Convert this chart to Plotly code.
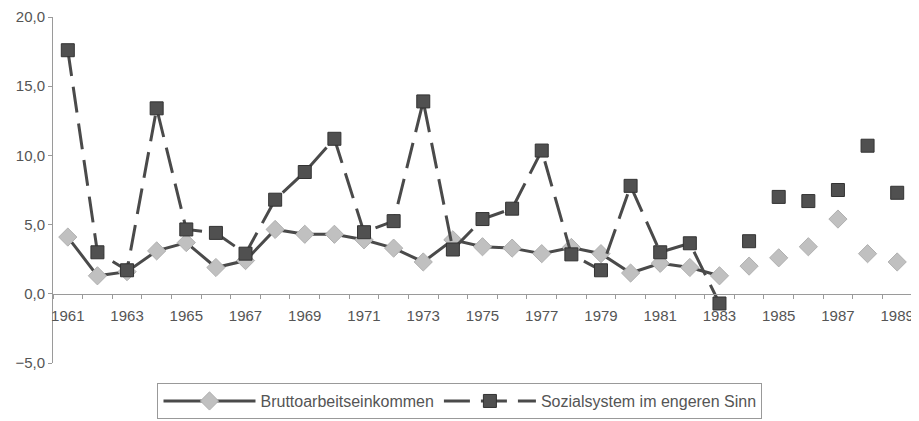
import plotly.graph_objects as go

years = list(range(1961, 1990))
brutto = [4.1, 1.3, 1.6, 3.1, 3.7, 1.9, 2.4, 4.65, 4.3, 4.3, 3.9, 3.3, 2.3,
          3.9, 3.4, 3.3, 2.9, 3.35, 2.9, 1.5, 2.2, 1.9, 1.3,
          2.0, 2.6, 3.4, 5.4, 2.9, 2.3]
sozial = [17.6, 3.0, 1.7, 13.4, 4.65, 4.4, 2.9, 6.8, 8.8, 11.2, 4.45, 5.25, 13.9,
          3.2, 5.4, 6.15, 10.35, 2.85, 1.7, 7.8, 3.0, 3.65, -0.7,
          3.8, 7.0, 6.7, 7.5, 10.7, 7.3]
names = ["Bruttoarbeitseinkommen", "Sozialsystem im engeren Sinn"]
line_end_year = 1983
label_years = list(range(1961, 1990, 2))

n_line = years.index(line_end_year) + 1

LINE = "#4a4a4a"
fig = go.Figure()
# Series 1
fig.add_trace(go.Scatter(
    x=years[:n_line], y=brutto[:n_line], mode="lines+markers", name=names[0],
    line=dict(color=LINE, width=3),
    marker=dict(symbol="diamond", size=14, color="#c0c0c0",
                line=dict(color="#b0b0b0", width=1)),
    legendrank=1))
fig.add_trace(go.Scatter(
    x=years[n_line:], y=brutto[n_line:], mode="markers", showlegend=False,
    marker=dict(symbol="diamond", size=14, color="#c0c0c0",
                line=dict(color="#b0b0b0", width=1))))
# Series 2
fig.add_trace(go.Scatter(
    x=years[:n_line], y=sozial[:n_line], mode="lines+markers", name=names[1],
    line=dict(color=LINE, width=3, dash="26px,11px"),
    marker=dict(symbol="square", size=13, color="#505050",
                line=dict(color="#333333", width=1)),
    legendrank=2))
fig.add_trace(go.Scatter(
    x=years[n_line:], y=sozial[n_line:], mode="markers", showlegend=False,
    marker=dict(symbol="square", size=13, color="#505050",
                line=dict(color="#333333", width=1))))

fig.update_layout(
    width=911, height=413,
    margin=dict(l=45, r=7, t=9, b=58, autoexpand=False),
    paper_bgcolor="white", plot_bgcolor="white",
    separators=",.",
    font=dict(family="Liberation Sans, Arial, sans-serif", color="#555555"),
    showlegend=True,
    legend=dict(orientation="h", x=0.4738, xanchor="center", y=-0.058, yanchor="top",
                bordercolor="#999999", borderwidth=1, font=dict(size=16, color="#555555"),
                itemwidth=92, traceorder="normal"),
)
fig.update_xaxes(
    range=[1960.5, 1989.5], anchor="free", position=0.2, automargin=False,
    showgrid=False, zeroline=False, showline=True, linecolor="#9a9a9a", linewidth=1,
    tickmode="array", tickvals=label_years, ticktext=[str(y) for y in label_years],
    ticks="", ticklabelstandoff=8, tickfont=dict(size=15, color="#555555"),
    minor=dict(tickmode="linear", tick0=1960.5, dtick=1, ticks="outside", ticklen=4,
               tickcolor="#9a9a9a", showgrid=False),
)
fig.update_yaxes(
    range=[-5, 20], dtick=5, tickformat=".1f", automargin=False,
    showgrid=False, zeroline=False, showline=True, linecolor="#9a9a9a", linewidth=1,
    ticks="outside", ticklen=4, tickcolor="#9a9a9a",
    tickfont=dict(size=15, color="#555555"),
)
fig.write_html("out.html")
